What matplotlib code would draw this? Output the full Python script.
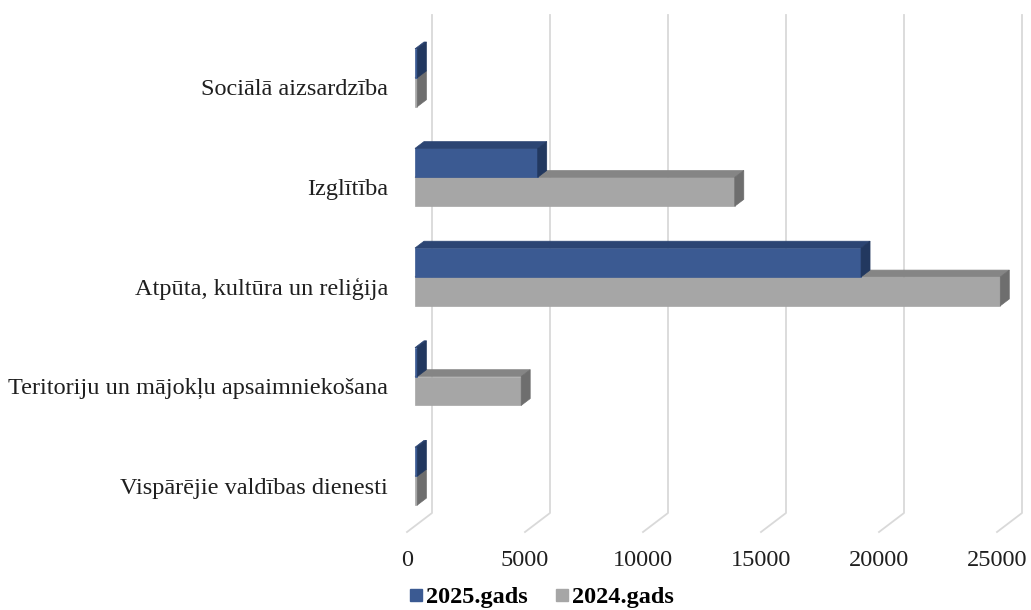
import numpy as np
import matplotlib
matplotlib.use("Agg")
import matplotlib.pyplot as plt
from matplotlib.patches import Polygon
from matplotlib.lines import Line2D

# dati (lasīti no attēla)
categories = ["Vispārējie valdības dienesti",
              "Teritoriju un mājokļu apsaimniekošana",
              "Atpūta, kultūra un reliģija",
              "Izglītība",
              "Sociālā aizsardzība"]
gads_2025 = [100, 100, 18900, 5200, 100]
gads_2024 = [100, 4500, 24800, 13550, 100]
series_names = ["2025.gads", "2024.gads"]
ticks = [0, 5000, 10000, 15000, 20000, 25000]

plt.rcParams['font.family'] = ['Liberation Serif', 'DejaVu Serif']

W, H = 1031, 610
fig = plt.figure(figsize=(W / 100, H / 100), dpi=100)
# priekšējā plakne: x 0..25000, y 0..5 kategorijas
ax = fig.add_axes([407 / W, (H - 532) / H, 590 / W, 498 / H])
ax.set_xlim(0, 25000)
ax.set_ylim(0, len(categories))
ax.axis('off')

# 3D dziļuma vektors datu vienībās
D = np.array([25 * 25000 / 590, 19 / 99.6])
bar_a, bar_b = 0.32, 0.68
bar_h = 0.29

grid_c = '#d9d9d9'
for t in ticks:
    xs = [t, t + D[0], t + D[0]]
    ys = [0, D[1], len(categories) + D[1]]
    ax.plot(xs, ys, color=grid_c, lw=1.3, clip_on=False, zorder=1)


def bar3d(x1, y0, y1, front, top, side):
    a, b = bar_a * D, bar_b * D
    f = [(0, y0), (x1, y0), (x1, y1), (0, y1)]
    f = [(p[0] + a[0], p[1] + a[1]) for p in f]
    tp = [(0 + a[0], y1 + a[1]), (x1 + a[0], y1 + a[1]),
          (x1 + b[0], y1 + b[1]), (0 + b[0], y1 + b[1])]
    sd = [(x1 + a[0], y0 + a[1]), (x1 + a[0], y1 + a[1]),
          (x1 + b[0], y1 + b[1]), (x1 + b[0], y0 + b[1])]
    for pts, c in [(f, front), (tp, top), (sd, side)]:
        ax.add_patch(Polygon(pts, closed=True, facecolor=c, edgecolor=c,
                             lw=0.5, clip_on=False, zorder=3))


blue = ('#3b5a92', '#2c4573', '#22385f')
gray = ('#a6a6a6', '#858585', '#6e6e6e')

for i in range(len(categories) - 1, -1, -1):
    c = i + 0.5
    bar3d(gads_2024[i], c - bar_h, c, *gray)
    bar3d(gads_2025[i], c, c + bar_h, *blue)
    ax.annotate(categories[i], xy=(0, c), xytext=(-19, -6),
                textcoords='offset pixels', ha='right', va='center',
                fontsize=17.5, color='#1f1f1f')

for t in ticks:
    ax.annotate(str(t), xy=(t, 0), xytext=(0, -28),
                textcoords='offset pixels', ha='center', va='center',
                fontsize=17.5, color='#1f1f1f')

handles = [Line2D([], [], marker='s', ls='', markersize=8,
                  markerfacecolor=blue[0], markeredgecolor=blue[0]),
           Line2D([], [], marker='s', ls='', markersize=8,
                  markerfacecolor=gray[0], markeredgecolor=gray[0])]
fig.legend(handles, series_names, loc='center', ncol=2,
           bbox_to_anchor=(540 / W, 13 / H), frameon=False,
           prop={'weight': 'bold', 'size': 17.5}, handletextpad=0.0,
           columnspacing=1.0, handlelength=0.8)

fig.savefig('out.png', dpi=100)
